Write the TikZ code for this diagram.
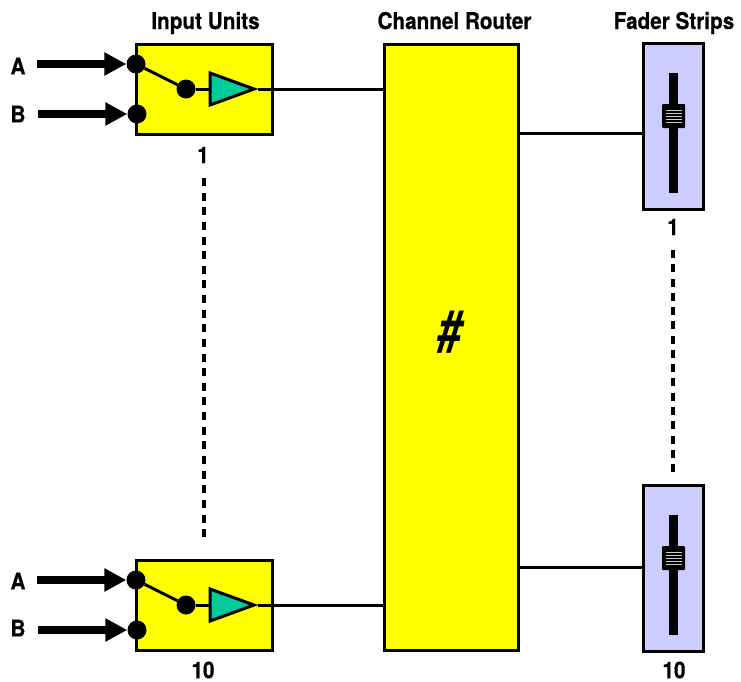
\documentclass[tikz,border=0pt]{standalone}
\usepackage{fontspec}
\setmainfont[FakeStretch=0.9,BoldFeatures={FakeBold=0.5}]{TeX Gyre Heros}
\usepackage{xcolor}
\usetikzlibrary{positioning,arrows.meta,shapes.geometric}
\definecolor{unityellow}{RGB}{255,255,0}
\definecolor{ampgreen}{RGB}{0,204,153}
\definecolor{faderblue}{RGB}{204,204,255}

\begin{document}
\begin{tikzpicture}[
  x=1pt, y=-1pt,
  every node/.style={font=\fontsize{23}{26}\selectfont\bfseries, inner sep=0pt},
  unitbox/.style={draw, line width=3pt, fill=unityellow, minimum width=136pt, minimum height=90pt},
  routerbox/.style={draw, line width=3pt, fill=unityellow, minimum width=134pt, minimum height=606pt},
  faderbox/.style={draw, line width=3pt, fill=faderblue, minimum width=60pt, minimum height=166pt},
  slot/.style={fill=black, minimum width=9pt, minimum height=120pt},
  knob/.style={fill=black, rounded corners=1pt, minimum width=23pt, minimum height=24pt},
  contact/.style={circle, fill=black, minimum size=19pt},
  amp/.style={draw, line width=3pt, fill=ampgreen, isosceles triangle, isosceles triangle stretches, minimum width=32pt, minimum height=44pt, anchor=apex},
  feed/.style={-{Triangle[length=22pt,width=22pt]}, line width=8pt},
  wire/.style={line width=3pt},
  heading/.style={anchor=base},
  dotsline/.style={line width=4pt, dash pattern=on 8pt off 6.63pt},
  grip/.style={draw=white!80!black, line width=0.8pt}
]
\useasboundingbox (0,0) rectangle (741,681);

% router and headings
\node[routerbox] (router) at (451,347) {};
\node[font=\fontsize{58}{60}\selectfont\bfseries\itshape, xscale=0.85] (hash) at (450,332) {\#};
\node[heading] (inhead) at (205.5,29) {Input Units};
\node[heading] (routerhead) at (454.5,29) {Channel Router};
\node[heading] (faderhead) at (674,29) {Fader Strips};

% input unit 1
\node[unitbox] (unit1) at (204,89) {};
\node[contact] (a1) at (136,64) {};
\node[contact] (b1) at (137,114) {};
\node[contact] (sw1) at (186,89) {};
\node[amp] (amp1) at (258,89) {};
\coordinate (astart1) at (37,64);
\coordinate (bstart1) at (38,114);
\draw[feed] (astart1) -- (a1);
\draw[feed] (bstart1) -- (b1);
\draw[wire] (a1) -- (sw1);
\draw[wire] (sw1) -- (amp1.west);
\draw[wire] (amp1.apex) -- (router.west |- amp1.apex);
\node (alab1) at (18,66) {A};
\node (blab1) at (18,114) {B};
\node (num1) at (203,155) {1};

% input unit 10
\node[unitbox] (unit10) at (204,605) {};
\node[contact] (a10) at (136,580) {};
\node[contact] (b10) at (137,630) {};
\node[contact] (sw10) at (186,605) {};
\node[amp] (amp10) at (258,605) {};
\coordinate (astart10) at (37,580);
\coordinate (bstart10) at (38,630);
\draw[feed] (astart10) -- (a10);
\draw[feed] (bstart10) -- (b10);
\draw[wire] (a10) -- (sw10);
\draw[wire] (sw10) -- (amp10.west);
\draw[wire] (amp10.apex) -- (router.west |- amp10.apex);
\node (alab10) at (18,581) {A};
\node (blab10) at (18,628) {B};
\node (num10) at (203,670) {10};

% fader strips
\node[faderbox] (fader1) at (673,126) {};
\node[slot] (slot1) at (673.5,133) {};
\node[knob] (knob1) at (673.5,116) {};
\foreach \y in {-6,-3,...,6}
  \draw[grip] ([xshift=-8pt,yshift=\y pt]knob1.center) -- ([xshift=8pt,yshift=\y pt]knob1.center);
\draw[wire] (router.east |- 0,133) -- (fader1.west |- 0,133);
\node (fnum1) at (673,227) {1};

\node[faderbox] (fader10) at (673,568) {};
\node[slot] (slot10) at (673.5,575) {};
\node[knob] (knob10) at (673.5,558) {};
\foreach \y in {-6,-3,...,6}
  \draw[grip] ([xshift=-8pt,yshift=\y pt]knob10.center) -- ([xshift=8pt,yshift=\y pt]knob10.center);
\draw[wire] (router.east |- 0,567) -- (fader10.west |- 0,567);
\node (fnum10) at (674,670) {10};

% dotted links
\coordinate (dotin1) at (204,178);
\coordinate (dotin10) at (204,537);
\coordinate (dotfad1) at (673,250);
\coordinate (dotfad10) at (673,472);
\draw[dotsline] (dotin1) -- (dotin10);
\draw[dotsline, dash pattern=on 8pt off 6.27pt] (dotfad1) -- (dotfad10);
\end{tikzpicture}
\end{document}
